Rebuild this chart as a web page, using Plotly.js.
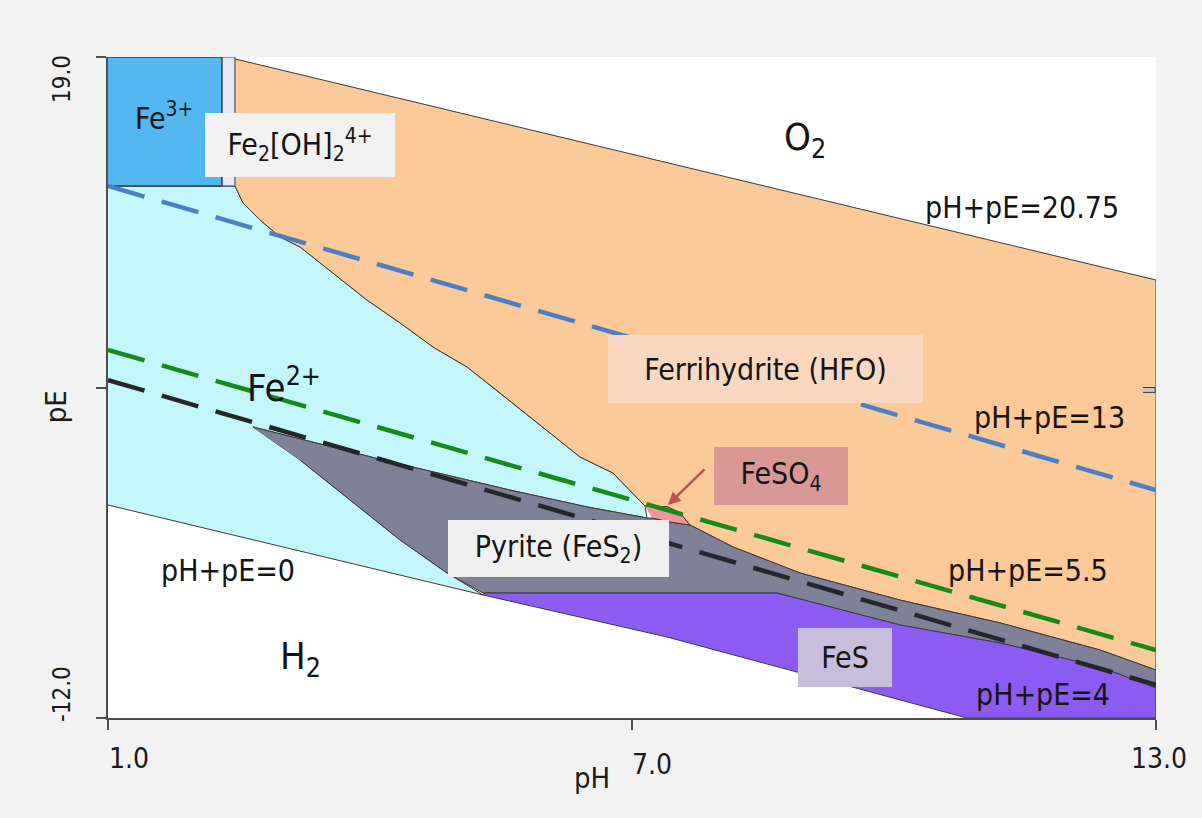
<!DOCTYPE html>
<html>
<head>
<meta charset="utf-8">
<script src="https://cdn.plot.ly/plotly-3.0.1.min.js"></script>
<style>html,body{margin:0;padding:0;background:#f2f2f2;}#chart{width:1202px;height:818px;}</style>
</head>
<body>
<div id="chart"></div>
<script>
// ---- data (pH, pE) ----
const fe3_pH = [1, 2.305, 2.305, 1];
const fe3_pE = [19, 19, 12.95, 12.95];

const fe2oh_pH = [2.305, 2.454, 2.454, 2.305];
const fe2oh_pE = [19, 19, 12.95, 12.95];

const hfo_pH = [2.454, 13, 13, 12.359, 11.214, 10.069, 8.924, 8.157, 7.664, 7.55, 7.412, 7.149, 6.782, 6.405, 5.489, 5.111, 4.721, 4.344, 3.966, 3.576, 3.199, 2.970, 2.740, 2.546, 2.477, 2.454];
const hfo_pE = [18.91, 8.54, -9.75, -8.81, -7.54, -6.47, -5.20, -3.98, -2.95, -2.39, -2.10, -2.06, -0.51, 0.24, 3.24, 4.46, 5.40, 6.53, 7.60, 8.87, 10.09, 10.56, 11.36, 12.15, 12.76, 12.95];

const fe2_pH = [1, 2.454, 2.477, 2.546, 2.740, 2.970, 3.199, 3.576, 3.966, 4.344, 4.721, 5.111, 5.489, 6.405, 6.782, 7.149, 7.172, 6.485, 5.603, 4.149, 2.660, 3.199, 4.344, 4.882, 5.294, 1];
const fe2_pE = [12.95, 12.95, 12.76, 12.15, 11.36, 10.56, 10.09, 8.87, 7.60, 6.53, 5.40, 4.46, 3.24, 0.24, -0.51, -2.06, -2.62, -2.10, -1.31, 0.10, 1.65, 0.10, -3.65, -5.20, -6.23, -2.01];

const pyrite_pH = [2.660, 4.149, 5.603, 6.485, 7.172, 7.229, 7.435, 7.664, 8.157, 8.924, 10.069, 11.214, 12.359, 13, 13, 12.359, 11.214, 10.069, 8.660, 5.294, 4.882, 4.344, 3.199];
const pyrite_pE = [1.65, 0.10, -1.31, -2.10, -2.62, -2.62, -2.81, -2.95, -3.98, -5.20, -6.47, -7.54, -8.81, -9.75, -10.59, -9.61, -8.48, -7.64, -6.14, -6.14, -5.20, -3.65, 0.10];

const fes_pH = [5.294, 8.660, 10.069, 11.214, 12.359, 13, 13, 10.836, 10.069, 8.924, 7.401, 5.294];
const fes_pE = [-6.14, -6.14, -7.64, -8.48, -9.61, -10.59, -12, -12, -11.15, -9.89, -8.20, -6.23];

const feso4_pH = [7.149, 7.412, 7.55, 7.664, 7.435, 7.229];
const feso4_pE = [-2.06, -2.10, -2.39, -2.95, -2.81, -2.62];

const mark_pH = [12.85, 12.99, 12.99, 12.85];
const mark_pE = [3.50, 3.50, 3.27, 3.27];

const line13_pH = [1, 13];
const line13_pE = [12.95, -1.31];
const line55_pH = [1, 13];
const line55_pE = [5.26, -8.81];
const line4_pH = [1, 13];
const line4_pE = [3.85, -10.45];

const xTickVals = [1, 7, 13];
const xTickText = ['1.0', '7.0', '13.0'];
const yTickVals = [19, 3.5, -12];
const yTickText = ['19.0', '', '-12.0'];

// ---- drawing ----
const OUT = '#3a3a3a';
function region(x, y, fill, lw) {
  return {x: x, y: y, type: 'scatter', mode: 'lines', fill: 'toself', fillcolor: fill,
          line: {color: OUT, width: lw === undefined ? 1 : lw}, hoverinfo: 'skip', showlegend: false};
}
function dashed(x, y, color) {
  return {x: x, y: y, type: 'scatter', mode: 'lines',
          line: {color: color, width: 4.5, dash: '38px,18px'}, hoverinfo: 'skip', showlegend: false};
}

const traces = [
  region(fe2_pH, fe2_pE, '#c4f7fb'),
  region(hfo_pH, hfo_pE, '#fcc998'),
  region(pyrite_pH, pyrite_pE, '#7e8197'),
  region(fes_pH, fes_pE, '#8c5cf2'),
  region(feso4_pH, feso4_pE, '#f4949a'),
  region(fe2oh_pH, fe2oh_pE, '#e2eaf0'),
  region(fe3_pH, fe3_pE, '#52b6ef', 1.5),
  region(mark_pH, mark_pE, '#c9c9c9'),
  dashed(line13_pH, line13_pE, '#4a7fc6'),
  dashed(line55_pH, line55_pE, '#178a17'),
  dashed(line4_pH, line4_pE, '#25262b')
];

const FONT = "'DejaVu Sans Condensed', 'DejaVu Sans', sans-serif";
function lab(text, x, y, size, extra) {
  return Object.assign({text: text, x: x, y: y, xref: 'x', yref: 'y', showarrow: false,
    font: {family: FONT, size: size, color: '#141414'}, xanchor: 'center', yanchor: 'middle'}, extra || {});
}
function boxed(text, x, y, w, h, bg) {
  return lab(text, x, y, 30, {bgcolor: bg, width: w, height: h, borderpad: 0, borderwidth: 0});
}

const annotations = [
  lab('Fe<sup>3+</sup>', 1.641, 16.19, 30),
  boxed('Fe<sub>2</sub>[OH]<sub>2</sub><sup>4+</sup>', 3.199, 14.87, 190, 64, '#f2f2f2'),
  lab('O<sub>2</sub>', 8.981, 15.11, 38),
  lab('pH+pE=20.75', 11.466, 11.92, 30),
  lab('Fe<sup>2+</sup>', 3.015, 3.62, 38),
  boxed('Ferrihydrite (HFO)', 8.523, 4.37, 315, 68, '#fad8bf'),
  lab('pH+pE=13', 11.786, 2.07, 30),
  boxed('FeSO<sub>4</sub>', 8.706, -0.65, 134, 58, '#d99896'),
  boxed('Pyrite (FeS<sub>2</sub>)', 6.153, -4.03, 221, 57, '#f0f0f0'),
  lab('pH+pE=0', 2.374, -5.06, 30),
  lab('pH+pE=5.5', 11.534, -5.06, 30),
  lab('H<sub>2</sub>', 3.199, -9.19, 38),
  boxed('FeS', 9.439, -9.14, 94, 59, '#c6bedb'),
  lab('pH+pE=4', 11.706, -10.92, 30),
  {x: 7.412, y: -2.01, xref: 'x', yref: 'y', text: '', showarrow: true,
   arrowcolor: '#c0504d', arrowwidth: 2.5, arrowhead: 2, arrowsize: 1, ax: 38, ay: -37, standoff: 0}
];

// axis tick labels and titles
const XTF = {family: FONT, size: 28, color: '#1a1a1a'};
const YTF = {family: FONT, size: 24, color: '#1a1a1a'};
const TTF = {family: FONT, size: 29, color: '#1a1a1a'};
const xShifts = [21, 20, 3];
const xYShifts = [-40, -46, -40];
xTickVals.forEach(function (v, i) {
  annotations.push({text: xTickText[i], x: v, y: 0, xref: 'x', yref: 'paper', showarrow: false,
    font: XTF, xanchor: 'center', yanchor: 'middle', xshift: xShifts[i], yshift: xYShifts[i]});
});
const yShifts = [-22, 0, 24];
yTickVals.forEach(function (v, i) {
  if (!yTickText[i]) return;
  annotations.push({text: yTickText[i], x: 0, y: v, xref: 'paper', yref: 'y', showarrow: false,
    font: YTF, textangle: -90, xanchor: 'center', yanchor: 'middle', xshift: -46, yshift: yShifts[i]});
});
annotations.push({text: 'pE', x: 0, y: 0.47, xref: 'paper', yref: 'paper', showarrow: false,
  font: TTF, textangle: -90, xanchor: 'center', yanchor: 'middle', xshift: -52});
annotations.push({text: 'pH', x: 0.462, y: 0, xref: 'paper', yref: 'paper', showarrow: false,
  font: TTF, xanchor: 'center', yanchor: 'middle', yshift: -60});

const layout = {
  width: 1202, height: 818,
  margin: {l: 108, r: 46, t: 57, b: 100, pad: 0},
  paper_bgcolor: '#f2f2f2', plot_bgcolor: '#ffffff',
  showlegend: false,
  xaxis: {range: [1, 13], showgrid: false, zeroline: false, showline: true, linecolor: '#4d4d4d', linewidth: 2,
          ticks: 'outside', tickvals: xTickVals, ticklen: 10, tickwidth: 2, tickcolor: '#4d4d4d',
          showticklabels: false, fixedrange: true},
  yaxis: {range: [-12, 19], showgrid: false, zeroline: false, showline: true, linecolor: '#4d4d4d', linewidth: 2,
          ticks: 'outside', tickvals: yTickVals, ticklen: 10, tickwidth: 2, tickcolor: '#4d4d4d',
          showticklabels: false, fixedrange: true},
  annotations: annotations
};

Plotly.newPlot('chart', traces, layout, {displayModeBar: false, staticPlot: true});
</script>
</body>
</html>
